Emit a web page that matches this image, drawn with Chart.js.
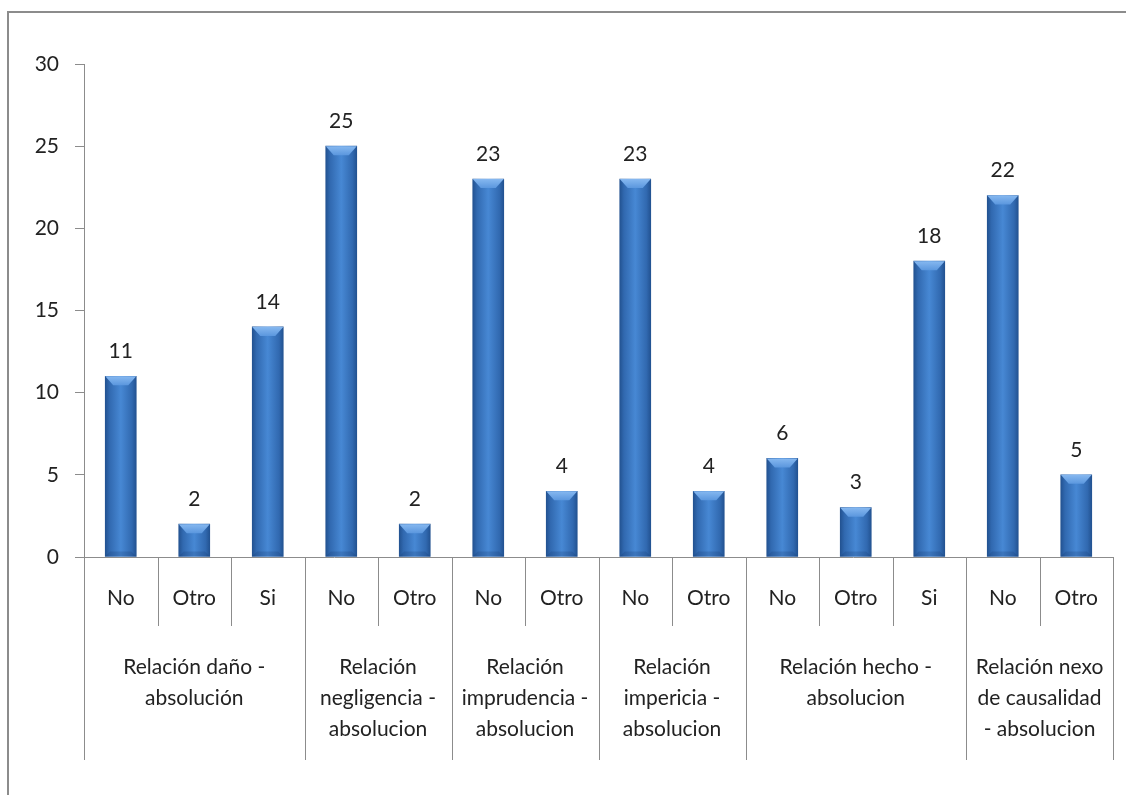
<!DOCTYPE html>
<html>
<head>
<meta charset="utf-8">
<script src="https://cdn.jsdelivr.net/npm/chart.js@4.4.0/dist/chart.umd.min.js"></script>
<style>
  html, body { margin: 0; padding: 0; background: #fff; }
  #wrap { width: 1126px; height: 795px; }
</style>
</head>
<body>
<div id="wrap"><canvas id="myChartArea" width="1126" height="795"></canvas></div>
<script>
// data
var subLabels = ["No", "Otro", "Si", "No", "Otro", "No", "Otro", "No", "Otro", "No", "Otro", "Si", "No", "Otro"];
var values = [11, 2, 14, 25, 2, 23, 4, 23, 4, 6, 3, 18, 22, 5];
var groupNames = [
    ["Relación daño -", "absolución"],
    ["Relación", "negligencia -", "absolucion"],
    ["Relación", "imprudencia -", "absolucion"],
    ["Relación", "impericia -", "absolucion"],
    ["Relación hecho -", "absolucion"],
    ["Relación nexo", "de causalidad", "- absolucion"]
];
var groupSizes = [3, 2, 2, 2, 3, 2];
var yTicks = [0, 5, 10, 15, 20, 25, 30];

var FONT = "Lato, 'Open Sans', sans-serif";
var FSIZE = 21;
var LINE = "#8c8c8c";

function barFill(ctx) {
    var chart = ctx.chart;
    if (!chart.chartArea || !chart.scales.x) return "#3a72b8";
    var cx = chart.scales.x.getPixelForValue(ctx.dataIndex);
    var g = chart.ctx.createLinearGradient(cx - 16, 0, cx + 16, 0);
    g.addColorStop(0, "#21508e");
    g.addColorStop(0.15, "#3169b0");
    g.addColorStop(0.5, "#4788d4");
    g.addColorStop(0.85, "#3169b0");
    g.addColorStop(1, "#21508e");
    return g;
}

// frame, bevels, value labels and the two-level category axis
var decor = {
    id: "decor",
    beforeDraw: function (chart) {
        var c = chart.ctx;
        c.save();
        c.strokeStyle = LINE;
        c.lineWidth = 2;
        c.beginPath();
        c.moveTo(8, 795);
        c.lineTo(8, 12);
        c.lineTo(1126, 12);
        c.stroke();
        c.restore();
    },
    afterDatasetsDraw: function (chart) {
        var c = chart.ctx;
        var meta = chart.getDatasetMeta(0);
        c.save();
        meta.data.forEach(function (bar, i) {
            var l = bar.x - bar.width / 2, r = bar.x + bar.width / 2;
            var top = bar.y, base = bar.base;
            var bev = Math.min(9, (base - top) / 2);
            var gt = c.createLinearGradient(0, top, 0, top + bev);
            gt.addColorStop(0, "#86b8f0");
            gt.addColorStop(1, "#5b97de");
            c.fillStyle = gt;
            c.beginPath();
            c.moveTo(l, top);
            c.lineTo(r, top);
            c.lineTo(r - 8, top + bev);
            c.lineTo(l + 8, top + bev);
            c.closePath();
            c.fill();
            c.fillStyle = "rgba(20,50,100,0.2)";
            c.beginPath();
            c.moveTo(l, base);
            c.lineTo(r, base);
            c.lineTo(r - 5, base - 5);
            c.lineTo(l + 5, base - 5);
            c.closePath();
            c.fill();

            c.fillStyle = "#222";
            c.font = FSIZE + "px " + FONT;
            c.textAlign = "center";
            c.textBaseline = "middle";
            c.fillText(String(values[i]), bar.x, top - 25);
        });
        c.restore();
    },
    afterDraw: function (chart) {
        var c = chart.ctx;
        var xs = chart.scales.x;
        var area = chart.chartArea;
        var step = xs.getPixelForValue(1) - xs.getPixelForValue(0);
        var y0 = area.bottom;
        c.save();
        c.strokeStyle = LINE;
        c.lineWidth = 1;
        // x axis line
        c.beginPath();
        c.moveTo(area.left - 9, y0 + 0.5);
        c.lineTo(area.right, y0 + 0.5);
        c.stroke();
        // sub labels
        c.fillStyle = "#222";
        c.font = FSIZE + "px " + FONT;
        c.textAlign = "center";
        c.textBaseline = "middle";
        subLabels.forEach(function (s, i) {
            c.fillText(s, xs.getPixelForValue(i), y0 + 41);
        });
        // separators
        var idx = 0;
        var bounds = [0];
        groupSizes.forEach(function (n) { idx += n; bounds.push(idx); });
        for (var k = 0; k <= subLabels.length; k++) {
            var x = Math.round(xs.getPixelForValue(k) - step / 2) + 0.5;
            var isGroup = bounds.indexOf(k) >= 0;
            c.beginPath();
            c.moveTo(x, y0);
            c.lineTo(x, y0 + (isGroup ? 203 : 69));
            c.stroke();
        }
        // group labels
        for (var g = 0; g < groupSizes.length; g++) {
            var a = xs.getPixelForValue(bounds[g]) - step / 2;
            var b = xs.getPixelForValue(bounds[g + 1]) - step / 2;
            var mid = (a + b) / 2;
            groupNames[g].forEach(function (line, j) {
                c.fillText(line, mid, y0 + 110 + j * 31);
            });
        }
        c.restore();
    }
};

new Chart(document.getElementById("myChartArea"), {
    type: "bar",
    data: {
        labels: subLabels,
        datasets: [{
            data: values,
            backgroundColor: barFill,
            borderWidth: 0,
            barThickness: 31
        }]
    },
    options: {
        responsive: false,
        animation: false,
        layout: { padding: { top: 64, right: 13, left: 0, bottom: 0 } },
        plugins: { legend: { display: false }, tooltip: { enabled: false } },
        scales: {
            x: {
                grid: { display: false },
                border: { display: false },
                ticks: { display: false },
                afterFit: function (s) { s.height = 795 - 557; }
            },
            y: {
                min: 0,
                max: 30,
                afterBuildTicks: function (s) { s.ticks = yTicks.map(function (v) { return { value: v }; }); },
                grid: { drawOnChartArea: false, tickLength: 9, color: LINE },
                border: { color: LINE },
                ticks: { padding: 16, color: "#222", font: { family: FONT, size: FSIZE } },
                afterFit: function (s) { s.width = 84; }
            }
        }
    },
    plugins: [decor]
});
</script>
</body>
</html>
